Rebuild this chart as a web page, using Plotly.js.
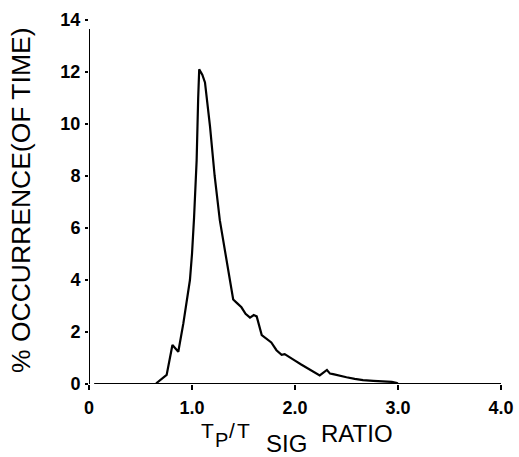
<!DOCTYPE html>
<html>
<head>
<meta charset="utf-8">
<script src="https://cdn.plot.ly/plotly-3.0.1.min.js"></script>
<style>html,body{margin:0;padding:0;background:#fff;}#chart{width:519px;height:457px;}</style>
</head>
<body>
<div id="chart"></div>
<script>
// T_P / T_SIG ratio
const ratio = [0.65, 0.66, 0.754, 0.81, 0.867, 0.916, 0.98, 1.0, 1.02, 1.045, 1.06, 1.07, 1.10, 1.126, 1.175, 1.22, 1.27, 1.30, 1.35, 1.40, 1.44, 1.48, 1.52, 1.563, 1.60, 1.628, 1.677, 1.72, 1.77, 1.82, 1.87, 1.90, 1.935, 2.0, 2.06, 2.12, 2.18, 2.24, 2.31, 2.34, 2.37, 2.43, 2.50, 2.58, 2.66, 2.76, 2.86, 2.94, 2.99, 3.0];
// % occurrence (of time)
const occurrence = [0.0, 0.05, 0.35, 1.5, 1.24, 2.33, 4.0, 5.0, 6.4, 8.6, 11.0, 12.1, 11.9, 11.6, 9.9, 8.0, 6.3, 5.6, 4.4, 3.25, 3.1, 2.95, 2.7, 2.55, 2.65, 2.6, 1.88, 1.75, 1.6, 1.3, 1.12, 1.15, 1.05, 0.9, 0.75, 0.6, 0.45, 0.33, 0.54, 0.4, 0.38, 0.32, 0.26, 0.2, 0.15, 0.12, 0.1, 0.08, 0.04, 0.0];

const xTickVals = [0, 1, 2, 3, 4];
const xTickText = ['0', '1.0', '2.0', '3.0', '4.0'];
const yTickVals = [0, 2, 4, 6, 8, 10, 12, 14];
const yTickText = ['0', '2', '4', '6', '8', '10', '12', '14'];

const yTitle = '% OCCURRENCE(OF TIME)';
const xTitleParts = ['T', 'P', '/', 'T', 'SIG', 'RATIO'];

const FONT = '"Liberation Sans", Arial, Helvetica, sans-serif';

const trace = {
  x: ratio, y: occurrence, type: 'scatter', mode: 'lines',
  line: {color: '#000', width: 2.2}, hoverinfo: 'skip', cliponaxis: false
};

// pixel helpers for text placement only (plot area: x 89..501, y 20..384)
const px2p = p => (p - 89) / 412;
const py2p = p => (384 - p) / 364;

const titlePos = [
  {px: 207, py: 430, size: 21},
  {px: 221, py: 440, size: 20},
  {px: 232, py: 430, size: 21},
  {px: 243.5, py: 430, size: 21},
  {px: 286, py: 443, size: 24},
  {px: 357, py: 433.5, size: 24}
];

const annotations = xTitleParts.map((t, i) => ({
  text: t, x: px2p(titlePos[i].px), y: py2p(titlePos[i].py), xref: 'paper', yref: 'paper',
  showarrow: false, xanchor: 'center', yanchor: 'middle',
  font: {family: FONT, size: titlePos[i].size, color: '#000'}
}));
annotations.push({
  text: yTitle, x: px2p(21), y: py2p(201), xref: 'paper', yref: 'paper', textangle: -90,
  showarrow: false, xanchor: 'center', yanchor: 'middle',
  font: {family: FONT, size: 26.5, color: '#000'}
});

const layout = {
  width: 519, height: 457,
  margin: {l: 89, r: 18, t: 20, b: 73},
  paper_bgcolor: '#fff', plot_bgcolor: '#fff',
  showlegend: false,
  xaxis: {
    range: [0, 4], showgrid: false, zeroline: false, showline: false,
    tickvals: xTickVals, ticktext: xTickText, ticks: 'outside', ticklen: 5, tickwidth: 1.5,
    tickcolor: '#000', ticklabelstandoff: 2,
    tickfont: {family: FONT, size: 18, color: '#000', weight: 'bold'}
  },
  yaxis: {
    range: [0, 14], showgrid: false, zeroline: false, showline: false,
    tickvals: yTickVals, ticktext: yTickText, ticks: 'outside', ticklen: 3, tickwidth: 2,
    tickcolor: '#000', ticklabelstandoff: 1,
    tickfont: {family: FONT, size: 18, color: '#000', weight: 'bold'}
  },
  shapes: [
    {type: 'line', xref: 'x', yref: 'y', x0: 0, x1: 0, y0: -0.45, y1: 13.65, line: {color: '#000', width: 2}},
    {type: 'line', xref: 'x', yref: 'y', x0: -0.04, x1: 0, y0: 13.65, y1: 13.65, line: {color: '#000', width: 2}},
    {type: 'line', xref: 'x', yref: 'y', x0: 0.05, x1: 4, y0: 0, y1: 0, line: {color: '#000', width: 2}},
    {type: 'line', xref: 'x', yref: 'y', x0: 4, x1: 4, y0: 0, y1: -0.2, line: {color: '#000', width: 2}}
  ],
  annotations: annotations
};

Plotly.newPlot('chart', [trace], layout, {staticPlot: true, displayModeBar: false});
</script>
</body>
</html>
